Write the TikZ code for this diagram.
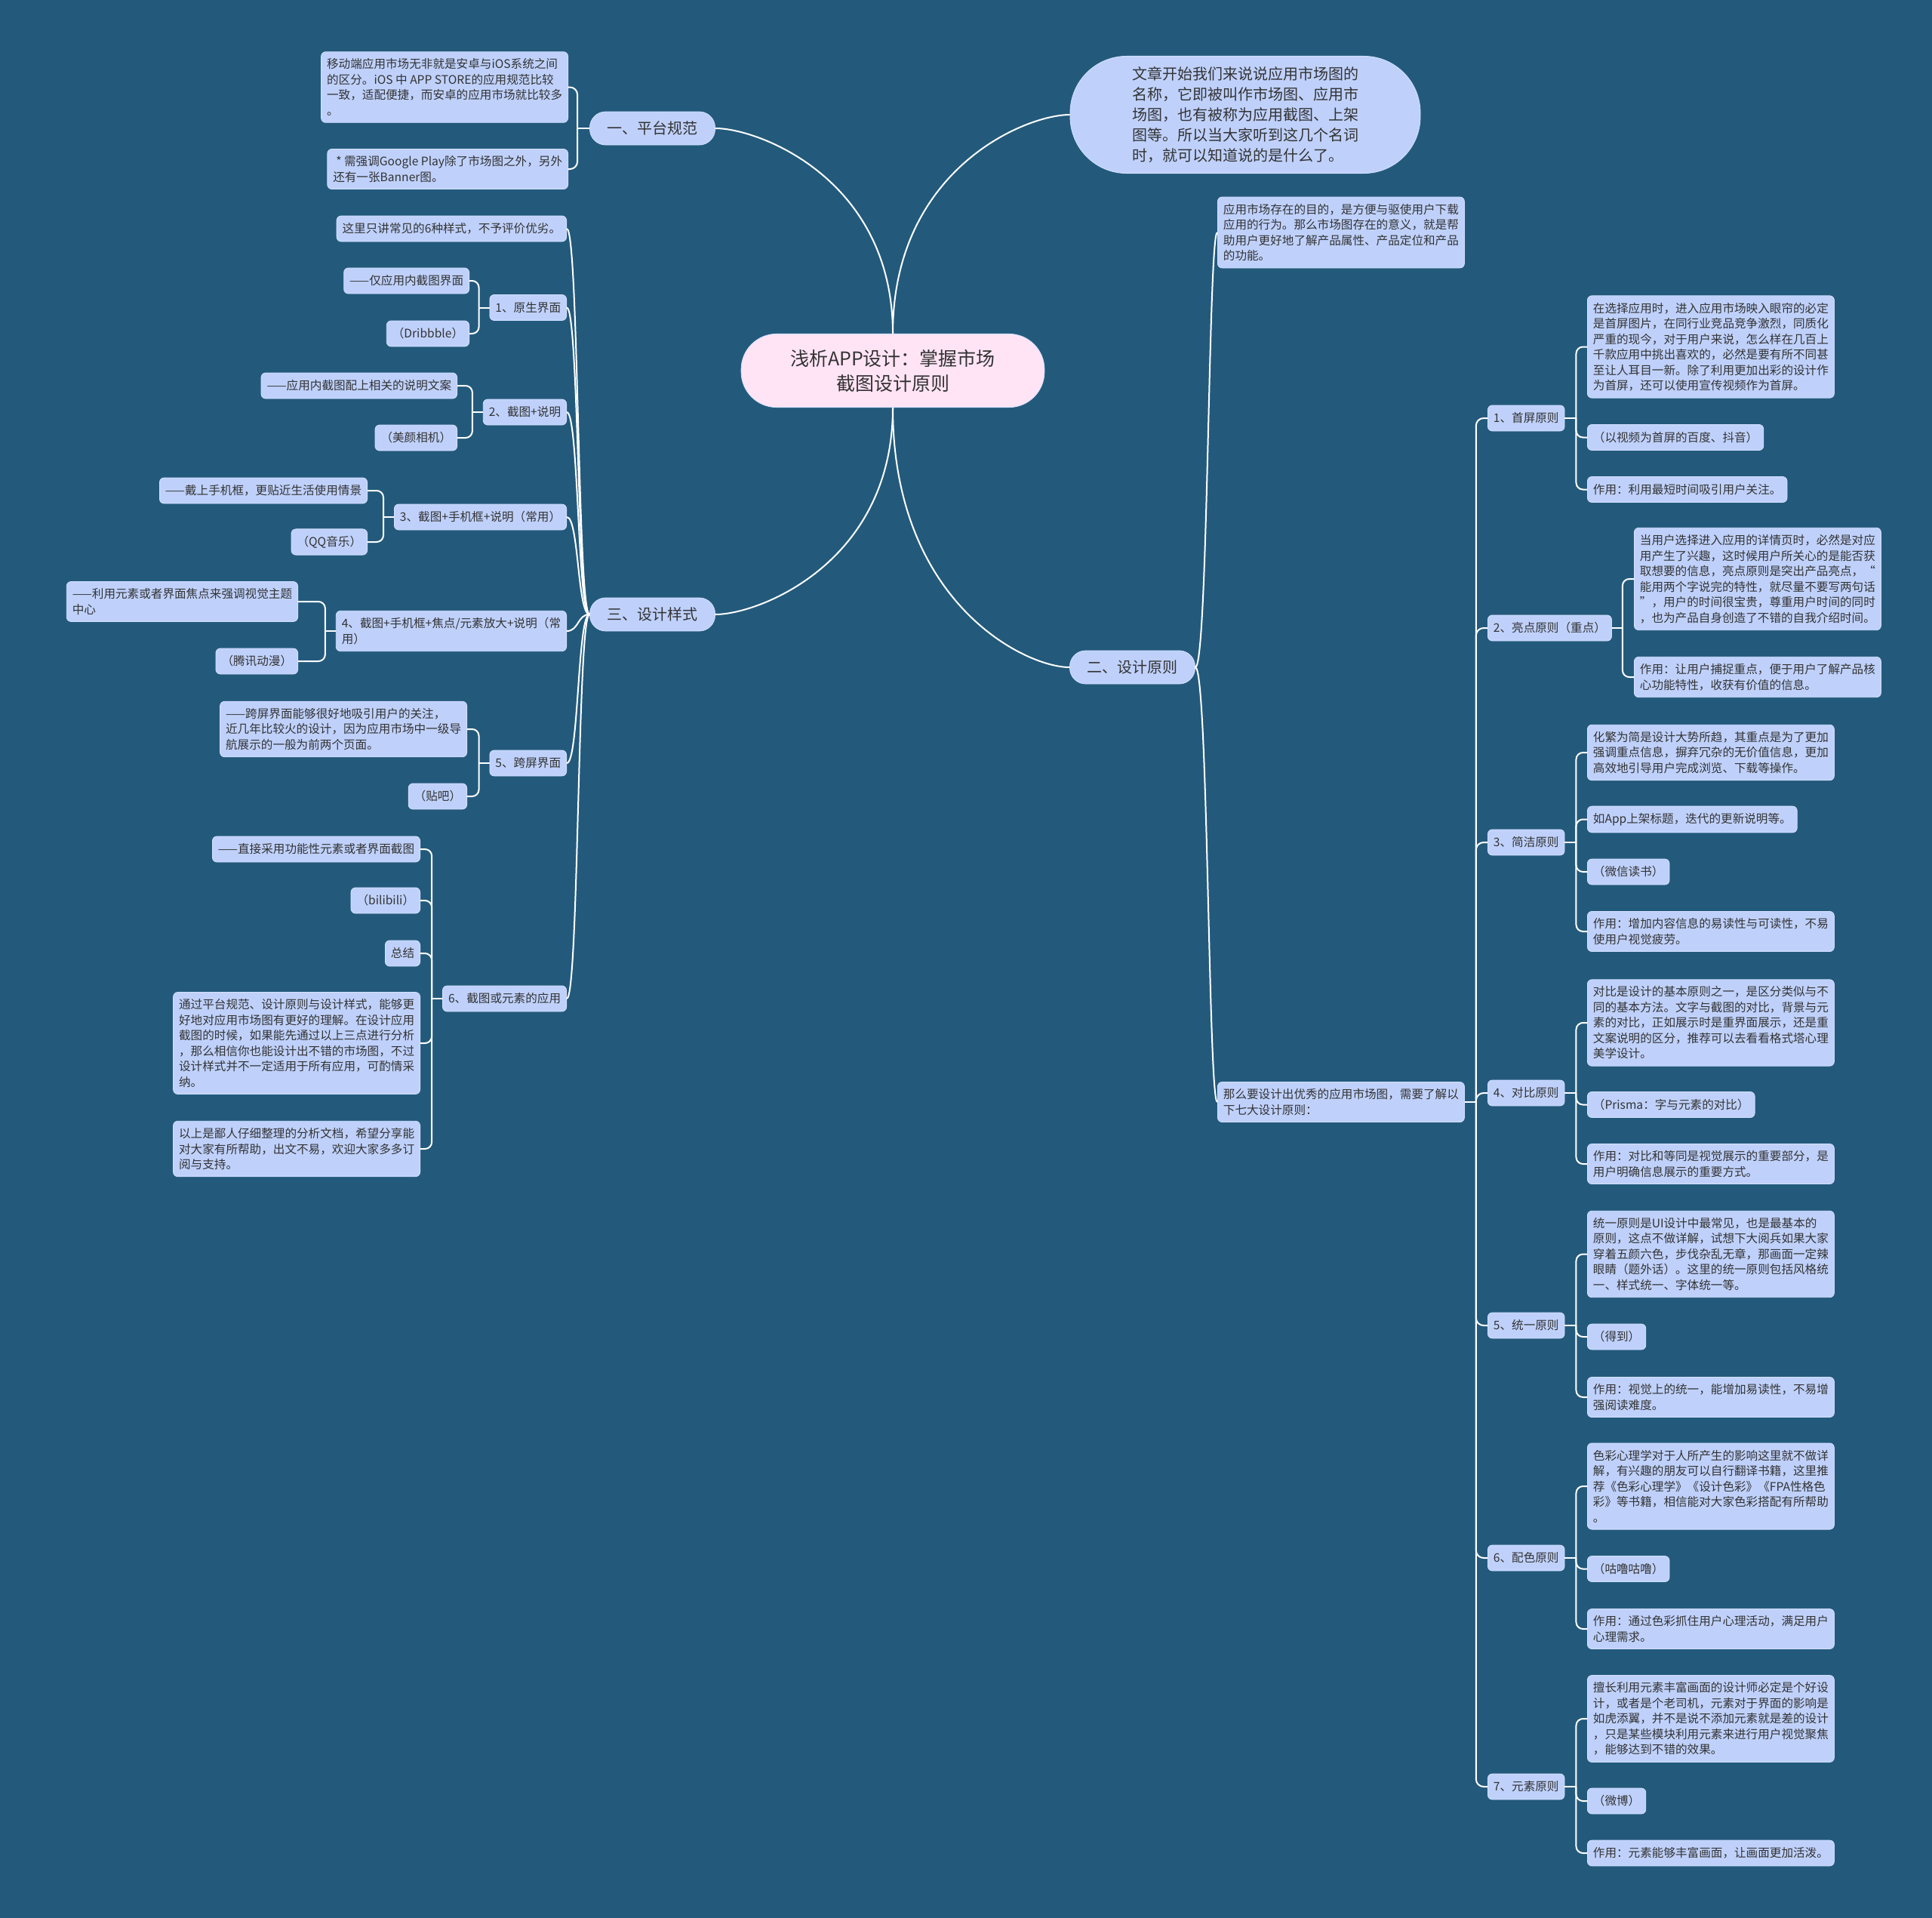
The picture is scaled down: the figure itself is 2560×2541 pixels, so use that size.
\documentclass[tikz,border=0pt]{standalone}
\usepackage{fontspec}
\setmainfont{Noto Sans CJK SC}
\usetikzlibrary{calc}
\definecolor{bgc}{HTML}{235A7C}
\definecolor{nodefill}{HTML}{BFD1FB}
\definecolor{nodeedge}{HTML}{D3E0FF}
\definecolor{rootfill}{HTML}{FFE4F6}
\definecolor{txt}{HTML}{333333}
\newcommand{\fsS}{\fontsize{15.6pt}{20.5pt}\selectfont}
\newcommand{\fsL}{\fontsize{20pt}{26pt}\selectfont}
\newcommand{\fsB}{\fontsize{20pt}{27pt}\selectfont}
\newcommand{\fsR}{\fontsize{25pt}{33pt}\selectfont}
\begin{document}
\begin{tikzpicture}[x=1pt,y=-1pt,
  conn/.style={draw=white, line width=2pt},
  box/.style={rectangle, rounded corners=6pt, fill=nodefill, draw=nodeedge, line width=0.8pt, text=txt, font=\fsS, inner xsep=7.5pt, inner ysep=9pt, minimum height=34pt, align=left},
  lvl/.style={rectangle, rounded corners=21pt, fill=nodefill, draw=nodeedge, line width=0.8pt, text=txt, font=\fsL, inner xsep=23pt, inner ysep=12pt, minimum height=44pt},
  rootst/.style={rectangle, rounded corners=47pt, fill=rootfill, draw=nodeedge, line width=0.8pt, text=txt, font=\fsR, inner xsep=65pt, inner ysep=20.5pt, align=center},
  bubble/.style={rectangle, rounded corners=75pt, fill=nodefill, draw=nodeedge, line width=0.8pt, text=txt, font=\fsB, inner xsep=82pt, inner ysep=14pt, align=left}
]
\fill[bgc] (0,0) rectangle (2560,2541);

% root and level 1
\node[rootst] (root) at (1183,491) {浅析APP设计：掌握市场\\截图设计原则};
\node[lvl] (L1) at (864.5,170) {一、平台规范};
\node[lvl] (L3) at (864.5,814) {三、设计样式};
\node[lvl] (L2) at (1500.5,884) {二、设计原则};
\node[bubble] (R0) at (1650,152) {文章开始我们来说说应用市场图的\\名称，它即被叫作市场图、应用市\\场图，也有被称为应用截图、上架\\图等。所以当大家听到这几个名词\\时，就可以知道说的是什么了。};

% platform
\node[box, anchor=east] (P1a) at (753,115.5) {移动端应用市场无非就是安卓与iOS系统之间\\的区分。iOS 中 APP STORE的应用规范比较\\一致，适配便捷，而安卓的应用市场就比较多\\。};
\node[box, anchor=east] (P1b) at (753,224) {\hspace{4pt}* 需强调Google Play除了市场图之外，另外\\还有一张Banner图。};

% styles
\node[box, anchor=east] (S0) at (751,303) {这里只讲常见的6种样式，不予评价优劣。};
\node[box, anchor=east] (S1) at (751,407.5) {1、原生界面};
\node[box, anchor=east] (S1a) at (622,372) {——仅应用内截图界面};
\node[box, anchor=east] (S1b) at (622,442) {（Dribbble）};
\node[box, anchor=east] (S2) at (751,546) {2、截图+说明};
\node[box, anchor=east] (S2a) at (606,511) {——应用内截图配上相关的说明文案};
\node[box, anchor=east] (S2b) at (606,580) {（美颜相机）};
\node[box, anchor=east] (S3) at (751,685) {3、截图+手机框+说明（常用）};
\node[box, anchor=east] (S3a) at (487,650) {——戴上手机框，更贴近生活使用情景};
\node[box, anchor=east] (S3b) at (487,718) {（QQ音乐）};
\node[box, anchor=east] (S4) at (751,836) {4、截图+手机框+焦点/元素放大+说明（常\\用）};
\node[box, anchor=east] (S4a) at (395,797) {——利用元素或者界面焦点来强调视觉主题\\中心};
\node[box, anchor=east] (S4b) at (395,876) {（腾讯动漫）};
\node[box, anchor=east] (S5) at (751,1011) {5、跨屏界面};
\node[box, anchor=east] (S5a) at (619,966) {——跨屏界面能够很好地吸引用户的关注，\\近几年比较火的设计，因为应用市场中一级导\\航展示的一般为前两个页面。};
\node[box, anchor=east] (S5b) at (619,1055) {（贴吧）};
\node[box, anchor=east] (S6) at (751,1323) {6、截图或元素的应用};
\node[box, anchor=east] (S6a) at (557,1125) {——直接采用功能性元素或者界面截图};
\node[box, anchor=east] (S6b) at (557,1193) {（bilibili）};
\node[box, anchor=east] (S6c) at (557,1263) {总结};
\node[box, anchor=east] (S6d) at (557,1382) {通过平台规范、设计原则与设计样式，能够更\\好地对应用市场图有更好的理解。在设计应用\\截图的时候，如果能先通过以上三点进行分析\\，那么相信你也能设计出不错的市场图，不过\\设计样式并不一定适用于所有应用，可酌情采\\纳。};
\node[box, anchor=east] (S6e) at (557,1522) {以上是鄙人仔细整理的分析文档，希望分享能\\对大家有所帮助，出文不易，欢迎大家多多订\\阅与支持。};

% principles
\node[box, anchor=west] (D0) at (1613,308) {应用市场存在的目的，是方便与驱使用户下载\\应用的行为。那么市场图存在的意义，就是帮\\助用户更好地了解产品属性、产品定位和产品\\的功能。};
\node[box, anchor=west] (D1) at (1613,1460) {那么要设计出优秀的应用市场图，需要了解以\\下七大设计原则：};

\node[box, anchor=west] (Pr1) at (1971,554) {1、首屏原则};
\node[box, anchor=west] (Pr1a) at (2103,459.5) {在选择应用时，进入应用市场映入眼帘的必定\\是首屏图片，在同行业竞品竞争激烈，同质化\\严重的现今，对于用户来说，怎么样在几百上\\千款应用中挑出喜欢的，必然是要有所不同甚\\至让人耳目一新。除了利用更加出彩的设计作\\为首屏，还可以使用宣传视频作为首屏。};
\node[box, anchor=west] (Pr1b) at (2103,579.5) {（以视频为首屏的百度、抖音）};
\node[box, anchor=west] (Pr1c) at (2103,648.5) {作用：利用最短时间吸引用户关注。};

\node[box, anchor=west] (Pr2) at (1971,832) {2、亮点原则（重点）};
\node[box, anchor=west] (Pr2a) at (2165,767) {当用户选择进入应用的详情页时，必然是对应\\用产生了兴趣，这时候用户所关心的是能否获\\取想要的信息，亮点原则是突出产品亮点，“\\能用两个字说完的特性，就尽量不要写两句话\\”，用户的时间很宝贵，尊重用户时间的同时\\，也为产品自身创造了不错的自我介绍时间。};
\node[box, anchor=west] (Pr2b) at (2165,897) {作用：让用户捕捉重点，便于用户了解产品核\\心功能特性，收获有价值的信息。};

\node[box, anchor=west] (Pr3) at (1971,1116) {3、简洁原则};
\node[box, anchor=west] (Pr3a) at (2103,997) {化繁为简是设计大势所趋，其重点是为了更加\\强调重点信息，摒弃冗杂的无价值信息，更加\\高效地引导用户完成浏览、下载等操作。};
\node[box, anchor=west] (Pr3b) at (2103,1085.5) {如App上架标题，迭代的更新说明等。};
\node[box, anchor=west] (Pr3c) at (2103,1155) {（微信读书）};
\node[box, anchor=west] (Pr3d) at (2103,1234) {作用：增加内容信息的易读性与可读性，不易\\使用户视觉疲劳。};

\node[box, anchor=west] (Pr4) at (1971,1448) {4、对比原则};
\node[box, anchor=west] (Pr4a) at (2103,1355) {对比是设计的基本原则之一，是区分类似与不\\同的基本方法。文字与截图的对比，背景与元\\素的对比，正如展示时是重界面展示，还是重\\文案说明的区分，推荐可以去看看格式塔心理\\美学设计。};
\node[box, anchor=west] (Pr4b) at (2103,1463.5) {（Prisma：字与元素的对比）};
\node[box, anchor=west] (Pr4c) at (2103,1542) {作用：对比和等同是视觉展示的重要部分，是\\用户明确信息展示的重要方式。};

\node[box, anchor=west] (Pr5) at (1971,1756) {5、统一原则};
\node[box, anchor=west] (Pr5a) at (2103,1661.5) {统一原则是UI设计中最常见，也是最基本的\\原则，这点不做详解，试想下大阅兵如果大家\\穿着五颜六色，步伐杂乱无章，那画面一定辣\\眼睛（题外话）。这里的统一原则包括风格统\\一、样式统一、字体统一等。};
\node[box, anchor=west] (Pr5b) at (2103,1771) {（得到）};
\node[box, anchor=west] (Pr5c) at (2103,1851) {作用：视觉上的统一，能增加易读性，不易增\\强阅读难度。};

\node[box, anchor=west] (Pr6) at (1971,2064) {6、配色原则};
\node[box, anchor=west] (Pr6a) at (2103,1969) {色彩心理学对于人所产生的影响这里就不做详\\解，有兴趣的朋友可以自行翻译书籍，这里推\\荐《色彩心理学》《设计色彩》《FPA性格色\\彩》等书籍，相信能对大家色彩搭配有所帮助\\。};
\node[box, anchor=west] (Pr6b) at (2103,2078.5) {（咕噜咕噜）};
\node[box, anchor=west] (Pr6c) at (2103,2158) {作用：通过色彩抓住用户心理活动，满足用户\\心理需求。};

\node[box, anchor=west] (Pr7) at (1971,2367) {7、元素原则};
\node[box, anchor=west] (Pr7a) at (2103,2277) {擅长利用元素丰富画面的设计师必定是个好设\\计，或者是个老司机，元素对于界面的影响是\\如虎添翼，并不是说不添加元素就是差的设计\\，只是某些模块利用元素来进行用户视觉聚焦\\，能够达到不错的效果。};
\node[box, anchor=west] (Pr7b) at (2103,2386) {（微博）};
\node[box, anchor=west] (Pr7c) at (2103,2455) {作用：元素能够丰富画面，让画面更加活泼。};

% ---------- connectors ----------
\draw[conn] (root.north) .. controls (1183,238) and (1006,170) .. (L1.east);
\draw[conn] (root.north) .. controls (1183,225) and (1358,152) .. (R0.west);
\draw[conn] (root.south) .. controls (1183,745) and (1006,814) .. (L3.east);
\draw[conn] (root.south) .. controls (1183,798) and (1358,884) .. (L2.west);

% platform bracket
\draw[conn] (L1.west) -- ++(-16,0) coordinate (tL1);
\foreach \c in {P1a,P1b} \draw[conn, rounded corners=10pt] (tL1) |- (\c.east);

% styles curves
\foreach \c in {S0,S1,S2,S3,S4,S5,S6}
  \draw[conn] (L3.west) .. controls ($(L3.west)+(-16,0)$) and ($(\c.east)+(16,0)$) .. (\c.east);

% design principle curves
\foreach \c in {D0,D1}
  \draw[conn] (L2.east) .. controls ($(L2.east)+(17,0)$) and ($(\c.west)+(-12,0)$) .. (\c.west);

% style sub brackets
\draw[conn] (S1.west) -- ++(-14,0) coordinate (tS1);
\foreach \c in {S1a,S1b} \draw[conn, rounded corners=9pt] (tS1) |- (\c.east);
\draw[conn] (S2.west) -- ++(-14,0) coordinate (tS2);
\foreach \c in {S2a,S2b} \draw[conn, rounded corners=9pt] (tS2) |- (\c.east);
\draw[conn] (S3.west) -- ++(-14,0) coordinate (tS3);
\foreach \c in {S3a,S3b} \draw[conn, rounded corners=9pt] (tS3) |- (\c.east);
\draw[conn] (S4.west) -- ++(-14,0) coordinate (tS4);
\foreach \c in {S4a,S4b} \draw[conn, rounded corners=9pt] (tS4) |- (\c.east);
\draw[conn] (S5.west) -- ++(-14,0) coordinate (tS5);
\foreach \c in {S5a,S5b} \draw[conn, rounded corners=9pt] (tS5) |- (\c.east);
\draw[conn] (S6.west) -- ++(-14,0) coordinate (tS6);
\foreach \c in {S6a,S6b,S6c,S6d,S6e} \draw[conn, rounded corners=9pt] (tS6) |- (\c.east);

% principles bracket
\draw[conn] (D1.east) -- ++(15,0) coordinate (tD1);
\foreach \c in {Pr1,Pr2,Pr3,Pr4,Pr5,Pr6,Pr7} \draw[conn, rounded corners=10pt] (tD1) |- (\c.west);

\draw[conn] (Pr1.east) -- ++(15,0) coordinate (tP1);
\foreach \c in {Pr1a,Pr1b,Pr1c} \draw[conn, rounded corners=9pt] (tP1) |- (\c.west);
\draw[conn] (Pr2.east) -- ++(14,0) coordinate (tP2);
\foreach \c in {Pr2a,Pr2b} \draw[conn, rounded corners=9pt] (tP2) |- (\c.west);
\draw[conn] (Pr3.east) -- ++(15,0) coordinate (tP3);
\foreach \c in {Pr3a,Pr3b,Pr3c,Pr3d} \draw[conn, rounded corners=9pt] (tP3) |- (\c.west);
\draw[conn] (Pr4.east) -- ++(15,0) coordinate (tP4);
\foreach \c in {Pr4a,Pr4b,Pr4c} \draw[conn, rounded corners=9pt] (tP4) |- (\c.west);
\draw[conn] (Pr5.east) -- ++(15,0) coordinate (tP5);
\foreach \c in {Pr5a,Pr5b,Pr5c} \draw[conn, rounded corners=9pt] (tP5) |- (\c.west);
\draw[conn] (Pr6.east) -- ++(15,0) coordinate (tP6);
\foreach \c in {Pr6a,Pr6b,Pr6c} \draw[conn, rounded corners=9pt] (tP6) |- (\c.west);
\draw[conn] (Pr7.east) -- ++(15,0) coordinate (tP7);
\foreach \c in {Pr7a,Pr7b,Pr7c} \draw[conn, rounded corners=9pt] (tP7) |- (\c.west);
\end{tikzpicture}
\end{document}
